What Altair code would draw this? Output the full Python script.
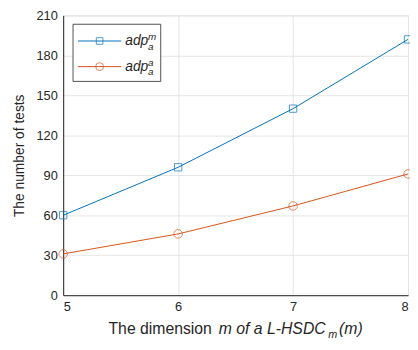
import altair as alt
import pandas as pd

dims = [5, 6, 7, 8]
adp_m = [60, 96, 140, 192]
adp_a = [31, 46, 67, 91]
y_ticks = [0, 30, 60, 90, 120, 150, 180, 210]

BLUE = "#0072BD"
ORANGE = "#D95319"
FONT = "Liberation Sans"
TXT = "#262626"

df = pd.DataFrame({"dim": dims + dims,
                   "val": adp_m + adp_a,
                   "series": ["m"] * 4 + ["a"] * 4})

W, H = 350, 284

xs = alt.X("dim:Q", scale=alt.Scale(domain=[5, 8], nice=False),
           axis=alt.Axis(values=dims, title=None, format="d", grid=True,
                         gridColor="#e6e6e6", labelFont=FONT, labelFontSize=13,
                         labelColor=TXT, domainColor=TXT, ticks=False, labelPadding=6))
ys = alt.Y("val:Q", scale=alt.Scale(domain=[0, 210], nice=False),
           axis=alt.Axis(values=y_ticks, title="The number of tests", grid=True,
                         gridColor="#e6e6e6", labelFont=FONT, labelFontSize=13,
                         labelColor=TXT, domainColor=TXT, ticks=False, labelPadding=6,
                         titleFont=FONT, titleFontSize=14, titleFontWeight="normal",
                         titleColor=TXT, titlePadding=10))

color = alt.Color("series:N", scale=alt.Scale(domain=["m", "a"], range=[BLUE, ORANGE]), legend=None)

line = alt.Chart(df).mark_line(strokeWidth=1).encode(x=xs, y=ys, color=color, detail="series:N")
sq = alt.Chart(df[df.series == "m"]).mark_point(shape="square", size=55, filled=False,
                                                  color=BLUE, strokeWidth=1).encode(x="dim:Q", y="val:Q")
ci = alt.Chart(df[df.series == "a"]).mark_point(shape="circle", size=75, filled=False,
                                                  color=ORANGE, strokeWidth=1).encode(x="dim:Q", y="val:Q")

# legend
one = pd.DataFrame({"k": [0]})
leg_box = alt.Chart(one).mark_rect(fill="white", stroke="#262626", strokeWidth=0.8).encode(
    x=alt.value(10), x2=alt.value(99), y=alt.value(9), y2=alt.value(67))

def leg_entry(ly, col, shape, size, sup):
    r = alt.Chart(one).mark_rule(color=col, strokeWidth=1).encode(
        x=alt.value(15), x2=alt.value(59), y=alt.value(ly))
    p = alt.Chart(one).mark_point(shape=shape, size=size, filled=False, color=col, strokeWidth=1).encode(
        x=alt.value(37), y=alt.value(ly))
    t = alt.Chart(one).mark_text(text="adp", font=FONT, fontSize=14, fontStyle="italic", color=TXT,
                                 align="left", baseline="alphabetic").encode(
        x=alt.value(63), y=alt.value(ly + 4))
    s1 = alt.Chart(one).mark_text(text=sup, font=FONT, fontSize=10, fontStyle="italic", color=TXT,
                                  align="left", baseline="alphabetic").encode(
        x=alt.value(86), y=alt.value(ly - 1))
    s2 = alt.Chart(one).mark_text(text="a", font=FONT, fontSize=10, fontStyle="italic", color=TXT,
                                  align="left", baseline="alphabetic").encode(
        x=alt.value(86), y=alt.value(ly + 9))
    return [r, p, t, s1, s2]

legend_layers = [leg_box] + leg_entry(26, BLUE, "square", 45, "m") + leg_entry(52, ORANGE, "circle", 65, "a")

# x-axis title pieces
def txt(s, x, y, size=16, italic=False):
    kw = dict(text=s, font=FONT, fontSize=size, color=TXT, align="left", baseline="alphabetic")
    if italic:
        kw["fontStyle"] = "italic"
    return alt.Chart(one).mark_text(**kw).encode(x=alt.value(x), y=alt.value(y))

TY = H + 39
title_layers = [
    txt("The dimension", 46, TY),
    txt("m of a L-HSDC", 158, TY, italic=True),
    txt("m", 269, TY + 4, size=11, italic=True),
    txt("(m)", 280, TY, italic=True),
]

chart = alt.layer(line, sq, ci, *legend_layers, *title_layers).properties(
    width=W, height=H,
    autosize=alt.AutoSizeParams(type="none"),
    padding={"left": 56, "top": 5, "right": 2, "bottom": 45},
).configure_view(stroke=TXT, strokeWidth=1).configure(background="white")

chart.save("out.html", embed_options={"renderer": "svg", "actions": False})
